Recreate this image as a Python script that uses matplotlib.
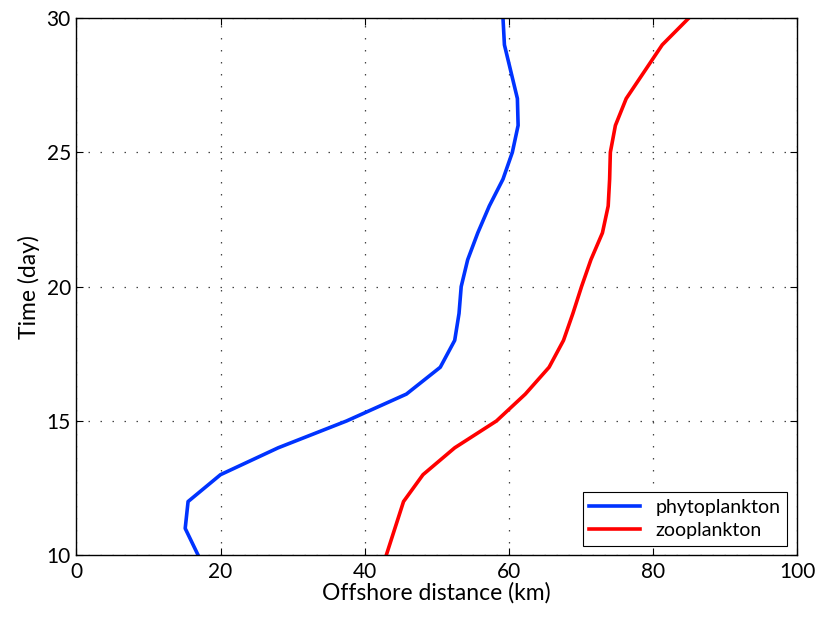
import matplotlib.pyplot as plt

days = list(range(10, 31))
phyto = [16.9, 15.1, 15.5, 20.0, 28.0, 37.5, 45.8, 50.5, 52.5, 53.1, 53.4,
         54.3, 55.7, 57.3, 59.2, 60.5, 61.3, 61.2, 60.3, 59.4, 59.2]
zoo = [43.0, 44.2, 45.4, 48.1, 52.5, 58.3, 62.3, 65.6, 67.6, 68.9, 70.1,
       71.4, 73.0, 73.8, 74.0, 74.1, 74.8, 76.3, 78.8, 81.3, 85.0]

plt.rcParams['font.family'] = ['Lato', 'DejaVu Sans']

fig = plt.figure(figsize=(8.17, 6.2), dpi=100)
ax = fig.add_axes([0.0935, 0.1044, 0.882, 0.8666])

ax.plot(phyto, days, color='#0033ff', linewidth=2.6, label='phytoplankton')
ax.plot(zoo, days, color='#ff0000', linewidth=2.6, label='zooplankton')

ax.set_xlim(0, 100)
ax.set_ylim(10, 30)
ax.set_xticks([0, 20, 40, 60, 80, 100])
ax.set_yticks([10, 15, 20, 25, 30])
ax.grid(True, color='#444444', linestyle=(0, (1.2, 8.4)), linewidth=0.9)
ax.tick_params(direction='in', top=True, right=True, labelsize=15, length=5)
ax.tick_params(axis='x', pad=5)
ax.tick_params(axis='y', pad=4)
for s in ax.spines.values():
    s.set_linewidth(1.0)

ax.set_xlabel('Offshore distance (km)', fontsize=16.5, labelpad=0)
ax.set_ylabel('Time (day)', fontsize=16.5, labelpad=5)

leg = ax.legend(loc='lower right', fontsize=14, fancybox=False, edgecolor='black',
                framealpha=1, borderaxespad=0.5, handlelength=2.6,
                borderpad=0.35, labelspacing=0.3)
leg.get_frame().set_linewidth(0.8)

fig.savefig('out.png', dpi=100)
